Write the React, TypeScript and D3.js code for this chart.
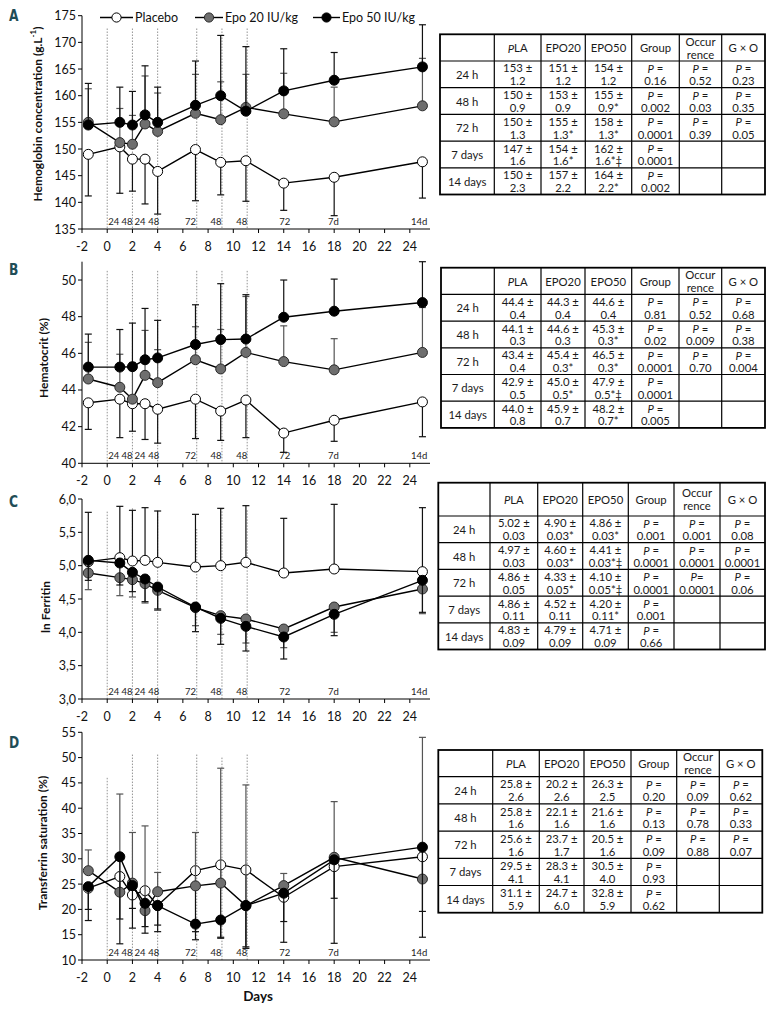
import React from "react";
import * as d3 from "d3";

// sampling days (x) shared by every panel
const days = [-1.5, 1, 2, 3, 4, 7, 9, 11, 14, 18, 25];
const guideDays = [0, 2, 4, 7.1, 9.1, 11.1];
const phaseText = ["24", "48", "24", "48", "72", "48", "48", "72", "7d", "14d"];
const phaseDays = [0.52, 1.58, 2.6, 3.69, 6.6, 8.62, 10.68, 14.08, 17.95, 24.74];
const xTicks = d3.range(-2, 25, 2);
const seriesNames = ["Placebo", "Epo 20 IU/kg", "Epo 50 IU/kg"];

// A - hemoglobin
const hbPla = [149.0, 150.4, 148.1, 148.1, 145.8, 149.9, 147.5, 147.8, 143.6, 144.7, 147.6];
const hbE20 = [155.0, 151.2, 150.9, 154.7, 153.3, 156.7, 155.5, 157.8, 156.6, 155.1, 158.1];
const hbE50 = [154.5, 155.0, 154.5, 156.4, 155.0, 158.2, 160.0, 157.1, 160.9, 162.9, 165.4];
const hbPlaErr = [141.2, 141.7, 142.1, 139.7, 137.8, 140.3, 141.4, 140.2, 138.5, 137.5, 140.8];
const hbE20Err = [161.3, 157.6, 156.3, 163.7, 160.5, 164.0, 162.6, 164.0, 164.2, 161.6, 167.0];
const hbE50Err = [162.3, 161.6, 160.8, 165.6, 161.6, 166.5, 171.3, 169.2, 168.8, 168.1, 173.3];

// B - hematocrit
const hctPla = [43.3, 43.5, 43.25, 43.25, 42.95, 43.5, 42.85, 43.45, 41.65, 42.35, 43.35];
const hctE20 = [44.6, 44.15, 43.5, 44.8, 44.4, 45.65, 45.15, 46.05, 45.55, 45.1, 46.05];
const hctE50 = [45.25, 45.25, 45.27, 45.65, 45.75, 46.48, 46.75, 46.78, 47.97, 48.3, 48.77];
const hctPlaErr = [41.85, 41.4, 41.75, 41.3, 41.1, 41.35, 41.25, 41.4, 40.6, 41.2, 41.45];
const hctE20Err = [46.6, 45.95, 45.5, 47.25, 46.2, 47.45, 47.3, 49.1, 47.5, 46.8, 48.5];
const hctE50Err = [47.05, 47.3, 47.65, 48.45, 47.8, 48.65, 49.8, 49.2, 50.0, 50.05, 51.0];

// C - ln ferritin
const ferPla = [5.06, 5.12, 5.07, 5.08, 5.05, 4.98, 5.0, 5.05, 4.89, 4.95, 4.91];
const ferE20 = [4.89, 4.82, 4.79, 4.73, 4.63, 4.37, 4.25, 4.2, 4.05, 4.38, 4.65];
const ferE50 = [5.08, 5.04, 4.9, 4.8, 4.68, 4.38, 4.21, 4.09, 3.93, 4.27, 4.78];
const ferPlaErr = [5.8, 5.89, 5.83, 5.87, 5.82, 5.77, 5.86, 5.9, 5.71, 5.92, 5.87];
const ferE20Err = [4.64, 4.55, 4.53, 4.44, 4.33, 4.1, 3.97, 3.84, 3.77, 4.0, 4.28];
const ferE50Err = [4.78, 4.71, 4.61, 4.46, 4.35, 4.01, 3.82, 3.72, 3.6, 3.95, 4.3];

// D - transferrin saturation
const tsPla = [24.2, 26.5, 22.85, 23.7, 20.75, 27.65, 28.8, 27.8, 22.4, 28.45, 30.4];
const tsE20 = [27.65, 23.4, 25.2, 19.75, 23.5, 24.65, 25.2, 20.75, 24.7, 30.3, 26.0];
const tsE50 = [24.5, 30.4, 24.7, 21.2, 20.75, 17.1, 17.9, 20.75, 23.2, 29.8, 32.3];
const tsPlaErr = [17.8, 13.2, 16.3, 15.3, 15.6, 15.6, 14.5, 12.3, 13.5, 13.3, 14.5];
const tsE20Err = [31.75, 42.8, 35.2, 36.5, 27.3, 35.2, 47.9, 44.6, 27.1, 41.3, 54.0];
const tsE50Err = [20.0, 18.1, 20.2, 16.6, 16.9, 14.0, 14.3, 12.6, 17.6, 22.2, 19.6];

// tables
const tabHeaders = ["", "PLA", "EPO20", "EPO50", "Group", "Occur|rence", "G × O"];
const tabRows = ["24 h", "48 h", "72 h", "7 days", "14 days"];

const hbTPla = ["153 ±|1.2", "150 ±|0.9", "150 ±|1.3", "147 ±|1.6", "150 ±|2.3"];
const hbTE20 = ["151 ±|1.2", "153 ±|0.9", "155 ±|1.3*", "154 ±|1.6*", "157 ±|2.2"];
const hbTE50 = ["154 ±|1.2", "155 ±|0.9*", "158 ±|1.3*", "162 ±|1.6*‡", "164 ±|2.2*"];
const hbTGroup = ["P =|0.16", "P =|0.002", "P =|0.0001", "P =|0.0001", "P =|0.002"];
const hbTOcc = ["P =|0.52", "P =|0.03", "P =|0.39", "", ""];
const hbTGxO = ["P =|0.23", "P =|0.35", "P =|0.05", "", ""];

const hctTPla = ["44.4 ±|0.4", "44.1 ±|0.3", "43.4 ±|0.4", "42.9 ±|0.5", "44.0 ±|0.8"];
const hctTE20 = ["44.3 ±|0.4", "44.6 ±|0.3", "45.4 ±|0.3*", "45.0 ±|0.5*", "45.9 ±|0.7"];
const hctTE50 = ["44.6 ±|0.4", "45.3 ±|0.3*", "46.5 ±|0.3*", "47.9 ±|0.5*‡", "48.2 ±|0.7*"];
const hctTGroup = ["P =|0.81", "P =|0.02", "P =|0.0001", "P =|0.0001", "P =|0.005"];
const hctTOcc = ["P =|0.52", "P =|0.009", "P =|0.70", "", ""];
const hctTGxO = ["P =|0.68", "P =|0.38", "P =|0.004", "", ""];

const ferTPla = ["5.02 ±|0.03", "4.97 ±|0.03", "4.86 ±|0.05", "4.86 ±|0.11", "4.83 ±|0.09"];
const ferTE20 = ["4.90 ±|0.03*", "4.60 ±|0.03*", "4.33 ±|0.05*", "4.52 ±|0.11", "4.79 ±|0.09"];
const ferTE50 = ["4.86 ±|0.03*", "4.41 ±|0.03*‡", "4.10 ±|0.05*‡", "4.20 ±|0.11*", "4.71 ±|0.09"];
const ferTGroup = ["P =|0.001", "P =|0.0001", "P =|0.0001", "P =|0.001", "P =|0.66"];
const ferTOcc = ["P =|0.001", "P =|0.0001", "P=|0.0001", "", ""];
const ferTGxO = ["P =|0.08", "P =|0.0001", "P =|0.06", "", ""];

const tsTPla = ["25.8 ±|2.6", "25.8 ±|1.6", "25.6 ±|1.6", "29.5 ±|4.1", "31.1 ±|5.9"];
const tsTE20 = ["20.2 ±|2.6", "22.1 ±|1.6", "23.7 ±|1.7", "28.3 ±|4.1", "24.7 ±|6.0"];
const tsTE50 = ["26.3 ±|2.5", "21.6 ±|1.6", "20.5 ±|1.6", "30.5 ±|4.0", "32.8 ±|5.9"];
const tsTGroup = ["P =|0.20", "P =|0.13", "P =|0.09", "P =|0.93", "P =|0.62"];
const tsTOcc = ["P =|0.09", "P =|0.78", "P =|0.88", "", ""];
const tsTGxO = ["P =|0.62", "P =|0.33", "P =|0.07", "", ""];

const FONT = "Lato, 'Open Sans', sans-serif";
const x = d3.scaleLinear([-2, 25.6], [82, 430]);

const markerFill = ["#ffffff", "#6e6e6e", "#000000"];
const markerStroke = ["#000000", "#2a2a2a", "#000000"];
const errColor = ["#111111", "#555555", "#111111"];

interface PanelCfg {
  letter: string;
  letterY: number;
  domain: [number, number];
  range: [number, number];
  ticks: number[];
  fmt: (v: number) => string;
  guideTop: number[];
  title: React.ReactNode;
  titleX: number;
  titleY: number;
  series: number[][];
  errs: number[][];
  table: {
    cols: number[];
    top: number;
    headH: number;
    rowH: number;
    columns: string[][];
  };
}

function CellText({ cx, cy, text }: { cx: number; cy: number; text: string }) {
  if (!text) return null;
  const lines = text.split("|");
  const off = lines.length > 1 ? 6.4 : 0;
  return (
    <>
      {lines.map((ln, i) => {
        const yy = cy + (i === 0 ? -off : off);
        const isP = ln.startsWith("P");
        return (
          <text key={i} x={cx} y={yy} textAnchor="middle" dominantBaseline="central"
            fontFamily={FONT} fontSize={11.3} fill="#1a1a1a">
            {isP ? (<><tspan fontStyle="italic">P</tspan>{ln.slice(1)}</>) : ln}
          </text>
        );
      })}
    </>
  );
}

function Table({ t }: { t: PanelCfg["table"] }) {
  const rowEdges = [t.top, t.top + t.headH];
  tabRows.forEach(() => rowEdges.push(rowEdges[rowEdges.length - 1] + t.rowH));
  const left = t.cols[0];
  const right = t.cols[t.cols.length - 1];
  const bottom = rowEdges[rowEdges.length - 1];
  return (
    <g>
      {t.cols.slice(1, -1).map((c, i) => (
        <line key={"c" + i} x1={c} x2={c} y1={t.top} y2={bottom} stroke="#000" strokeWidth={1.2} />
      ))}
      {rowEdges.slice(1, -1).map((r, i) => (
        <line key={"r" + i} x1={left} x2={right} y1={r} y2={r} stroke="#000" strokeWidth={1.2} />
      ))}
      <rect x={left} y={t.top} width={right - left} height={bottom - t.top} fill="none" stroke="#000" strokeWidth={1.8} />
      {tabHeaders.map((h, ci) => (
        <CellText key={"h" + ci} cx={(t.cols[ci] + t.cols[ci + 1]) / 2} cy={(rowEdges[0] + rowEdges[1]) / 2} text={h} />
      ))}
      {tabRows.map((rn, ri) => {
        const cy = (rowEdges[ri + 1] + rowEdges[ri + 2]) / 2;
        return (
          <g key={"row" + ri}>
            <CellText cx={(t.cols[0] + t.cols[1]) / 2} cy={cy} text={rn} />
            {t.columns.map((col, ci) => (
              <CellText key={ci} cx={(t.cols[ci + 1] + t.cols[ci + 2]) / 2} cy={cy} text={col[ri]} />
            ))}
          </g>
        );
      })}
    </g>
  );
}

function Panel({ p }: { p: PanelCfg }) {
  const y = d3.scaleLinear(p.domain, p.range);
  const y0 = p.range[0];
  const line = d3.line<number>().x((_, i) => x(days[i])).y((v) => y(v));
  return (
    <g>
      <text transform={`translate(9,${p.letterY}) scale(0.82,1)`} fontFamily="'DejaVu Sans', sans-serif"
        fontWeight="bold" fontSize={15} fill="#1f4d57">{p.letter}</text>

      {guideDays.map((d, i) => (
        <line key={"g" + i} x1={x(d)} x2={x(d)} y1={y(p.guideTop[i])} y2={y0}
          stroke="#777" strokeWidth={0.8} strokeDasharray="1.5,1.5" />
      ))}
      {phaseText.map((t, i) => (
        <text key={"p" + i} x={x(phaseDays[i])} y={y0 - 4} textAnchor="middle"
          fontFamily={FONT} fontSize={9.5} fill="#222">{t}</text>
      ))}

      {/* y axis */}
      <line x1={x(-2)} x2={x(-2)} y1={p.range[1]} y2={y0} stroke="#000" strokeWidth={1} />
      {p.ticks.map((t, i) => (
        <g key={"yt" + i}>
          <line x1={x(-2) - 4} x2={x(-2)} y1={y(t)} y2={y(t)} stroke="#000" strokeWidth={1} />
          <text x={76} y={y(t)} textAnchor="end" dominantBaseline="central"
            fontFamily={FONT} fontSize={12.5} fill="#111">{p.fmt(t)}</text>
        </g>
      ))}
      {/* x axis */}
      <line x1={x(-2)} x2={x(25.6)} y1={y0} y2={y0} stroke="#000" strokeWidth={1} />
      {xTicks.map((t, i) => (
        <g key={"xt" + i}>
          <line x1={x(t)} x2={x(t)} y1={y0} y2={y0 + 4} stroke="#000" strokeWidth={1} />
          <text x={x(t)} y={y0 + 17} textAnchor="middle" dominantBaseline="central"
            fontFamily={FONT} fontSize={12.5} fill="#111">{t}</text>
        </g>
      ))}
      <text transform={`translate(${p.titleX},${p.titleY}) rotate(-90)`} textAnchor="middle"
        dominantBaseline="central" fontFamily={FONT} fontWeight="bold" fontSize={12} fill="#111">
        {p.title}
      </text>

      {p.series.map((s, si) => (
        <g key={"s" + si}>
          {s.map((v, i) => (
            <g key={i}>
              <line x1={x(days[i])} x2={x(days[i])} y1={y(v)} y2={y(p.errs[si][i])}
                stroke={errColor[si]} strokeWidth={1.2} />
              <line x1={x(days[i]) - 3.5} x2={x(days[i]) + 3.5} y1={y(p.errs[si][i])} y2={y(p.errs[si][i])}
                stroke={errColor[si]} strokeWidth={1.2} />
            </g>
          ))}
          <path d={line(s)!} fill="none" stroke="#000" strokeWidth={1.4} />
          {s.map((v, i) => (
            <circle key={"m" + i} cx={x(days[i])} cy={y(v)} r={5}
              fill={markerFill[si]} stroke={markerStroke[si]} strokeWidth={1} />
          ))}
        </g>
      ))}
      <Table t={p.table} />
    </g>
  );
}

const comma = (v: number) => v.toFixed(1).replace(".", ",");
const plain = (v: number) => String(v);

const panels: PanelCfg[] = [
  {
    letter: "A", letterY: 21, domain: [135, 175], range: [229, 15.7],
    ticks: d3.range(135, 176, 5), fmt: plain, guideTop: [172.6, 172.6, 172.6, 172.6, 172.6, 172.6],
    title: (<>Hemoglobin concentration (g.L<tspan dy={-4} fontSize={8}>-1</tspan><tspan dy={4}>)</tspan></>),
    titleX: 37, titleY: 114,
    series: [hbPla, hbE20, hbE50], errs: [hbPlaErr, hbE20Err, hbE50Err],
    table: { cols: [440, 494.3, 541, 585.3, 631.7, 679.3, 721.7, 765], top: 34.3, headH: 26.7, rowH: 26.7,
      columns: [hbTPla, hbTE20, hbTE50, hbTGroup, hbTOcc, hbTGxO] },
  },
  {
    letter: "B", letterY: 275, domain: [40, 51], range: [463.3, 261.7],
    ticks: d3.range(40, 51, 2), fmt: plain, guideTop: [50.5, 50.5, 50.5, 50.5, 50.5, 50.5],
    title: "Hematocrit (%)", titleX: 43, titleY: 358,
    series: [hctPla, hctE20, hctE50], errs: [hctPlaErr, hctE20Err, hctE50Err],
    table: { cols: [441, 494.3, 541, 585, 631.7, 679, 721.7, 765], top: 267.7, headH: 26.7, rowH: 26.7,
      columns: [hctTPla, hctTE20, hctTE50, hctTGroup, hctTOcc, hctTGxO] },
  },
  {
    letter: "C", letterY: 507, domain: [3, 6], range: [699, 499],
    ticks: d3.range(3, 6.01, 0.5), fmt: comma, guideTop: [5.81, 5.86, 5.83, 5.55, 5.86, 5.83],
    title: "ln Ferritin", titleX: 45, titleY: 607,
    series: [ferPla, ferE20, ferE50], errs: [ferPlaErr, ferE20Err, ferE50Err],
    table: { cols: [438.3, 490, 537.7, 582.7, 628.3, 674, 720, 765], top: 482.7, headH: 33.3, rowH: 26.7,
      columns: [ferTPla, ferTE20, ferTE50, ferTGroup, ferTOcc, ferTGxO] },
  },
  {
    letter: "D", letterY: 748, domain: [10, 55], range: [960, 732.3],
    ticks: d3.range(10, 56, 5), fmt: plain, guideTop: [46, 50.6, 50.6, 50.6, 50, 50.6],
    title: "Transferrin saturation (%)", titleX: 42.5, titleY: 843,
    series: [tsPla, tsE20, tsE50], errs: [tsPlaErr, tsE20Err, tsE50Err],
    table: { cols: [438.3, 492.7, 539.3, 584, 631, 676.7, 719.3, 762.3], top: 750, headH: 26.7, rowH: 27.2,
      columns: [tsTPla, tsTE20, tsTE50, tsTGroup, tsTOcc, tsTGxO] },
  },
];

const legendLines = [[100, 133], [195, 223], [313, 340]];

export default function App() {
  return (
    <svg width={775} height={1009} style={{ position: "absolute", left: 0, top: 0, background: "#fff" }}>
      <rect width={775} height={1009} fill="#fff" />
      {panels.map((p, i) => <Panel key={i} p={p} />)}
      {/* legend */}
      {seriesNames.map((n, i) => {
        const [a, b] = legendLines[i];
        return (
          <g key={"lg" + i}>
            <line x1={a} x2={b} y1={17.5} y2={17.5} stroke="#000" strokeWidth={1.4} />
            <circle cx={(a + b) / 2} cy={17.5} r={4.6} fill={markerFill[i]} stroke={markerStroke[i]} strokeWidth={1} />
            <text x={b + 2} y={17.5} dominantBaseline="central" fontFamily={FONT} fontSize={12.5} fill="#111">{n}</text>
          </g>
        );
      })}
      <text x={258} y={996} textAnchor="middle" dominantBaseline="central" fontFamily={FONT}
        fontWeight="bold" fontSize={13.5} fill="#111">Days</text>
    </svg>
  );
}
